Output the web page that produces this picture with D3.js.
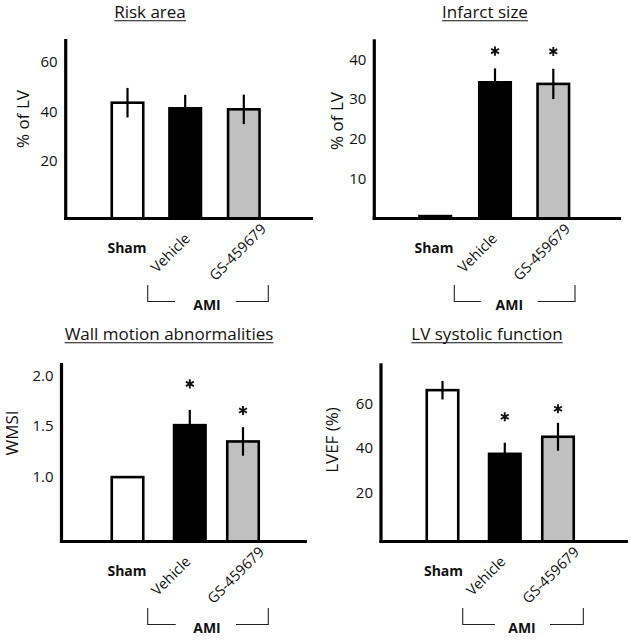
<!DOCTYPE html>
<html>
<head>
<meta charset="utf-8">
<script src="https://cdn.jsdelivr.net/npm/d3@7/dist/d3.min.js"></script>
<style>
  html, body { margin: 0; padding: 0; background: #fff; }
  svg { display: block; font-family: "Open Sans", "Noto Sans", sans-serif; }
</style>
</head>
<body>
<svg id="chart" width="631" height="642"></svg>
<script>
// ---------------- DATA ----------------
const categories = ["Sham", "Vehicle", "GS-459679"];
const groupLabel = "AMI";
const titles = ["Risk area", "Infarct size", "Wall motion abnormalities", "LV systolic function"];
const yTitles = ["% of LV", "% of LV", "WMSI", "LVEF (%)"];

const riskArea      = [43.5, 41.2, 40.8];
const riskAreaErr   = [6.0, 5.5, 6.0];
const infarctSize   = [0.6, 34.2, 33.8];
const infarctErr    = [0, 3.5, 3.8];
const wmsi          = [1.0, 1.51, 1.35];
const wmsiErr       = [0, 0.15, 0.14];
const lvef          = [66.0, 37.3, 45.0];
const lvefErr       = [4.2, 5.0, 6.3];

const significant = [
  [false, false, false],
  [false, true, true],
  [false, true, true],
  [false, true, true]
];

const ticks1 = [20, 40, 60];
const ticks2 = [10, 20, 30, 40];
const ticks3 = [1.0, 1.5, 2.0];
const ticks4 = [20, 40, 60];

// ---------------- LAYOUT ----------------
const barFills = ["#ffffff", "#000000", "#c0c0c0"];
const layouts = [
  { ax: 65.7, top: 39, base: 218.5, right: 313, dom: [-3.6, 69.4], fmt: d3.format("d"),
    centers: [127.5, 185.2, 243.8], titleX: 150, titleY: 17.5, yTitleX: 23, yTitleY: 119,
    labelX: [127, 191, 267], bracket: [147.7, 268.3, 175, 236, 207], starGap: [0, 17, 17] },
  { ax: 374.3, top: 39.3, base: 218.5, right: 621, dom: [0, 45], fmt: d3.format("d"),
    centers: [435.2, 495, 553.3], titleX: 485, titleY: 17.5, yTitleX: 337, yTitleY: 121,
    labelX: [434, 498, 571], bracket: [454.3, 575, 480.7, 537.7, 509.3], starGap: [0, 17.3, 17.3] },
  { ax: 61.5, top: 363, base: 541.5, right: 307, dom: [0.368, 2.12], fmt: d3.format(".1f"),
    centers: [127.5, 189.8, 243], titleX: 169, titleY: 339.5, yTitleX: 12.5, yTitleY: 433,
    labelX: [127, 191.5, 265], bracket: [147.7, 268.3, 175.7, 236, 207], starGap: [0, 26, 16.7] },
  { ax: 381, top: 363.3, base: 541.5, right: 628, dom: [-2.2, 78.1], fmt: d3.format("d"),
    centers: [442.5, 504.8, 558], titleX: 487, titleY: 339.5, yTitleX: 331.7, yTitleY: 440,
    labelX: [443.5, 506.5, 580], bracket: [462.7, 583.3, 495, 550, 522], starGap: [0, 26, 14] }
];

const panelValues = [riskArea, infarctSize, wmsi, lvef];
const panelErrors = [riskAreaErr, infarctErr, wmsiErr, lvefErr];
const panelTicks = [ticks1, ticks2, ticks3, ticks4];

const svg = d3.select("#chart");
const ink = "#111";
const star = d3.symbol().type(d3.symbolAsterisk).size(58);

panelValues.forEach((vals, p) => {
  const L = layouts[p];
  const errs = panelErrors[p];
  const rows = vals.map((v, i) => ({ cat: categories[i], v, e: errs[i], i, sig: significant[p][i] }));
  const g = svg.append("g");

  const y = d3.scaleLinear().domain(L.dom).range([L.base, L.top]);
  const x = d3.scaleOrdinal().domain(categories).range(L.centers);
  const barW = 31.5;

  // title with underline
  const t = g.append("text")
    .attr("x", L.titleX).attr("y", L.titleY)
    .attr("text-anchor", "middle")
    .attr("font-size", 17).attr("fill", ink)
    .text(titles[p]);
  const tw = t.node().getComputedTextLength();
  g.append("line")
    .attr("x1", L.titleX - tw / 2).attr("x2", L.titleX + tw / 2)
    .attr("y1", L.titleY + 3.2).attr("y2", L.titleY + 3.2)
    .attr("stroke", ink).attr("stroke-width", 1.1);

  // y-axis title
  g.append("text")
    .attr("transform", `translate(${L.yTitleX},${L.yTitleY}) rotate(-90)`)
    .attr("text-anchor", "middle").attr("dy", "0.35em")
    .attr("font-size", 17).attr("fill", ink)
    .text(yTitles[p]);

  // y axis with tick labels (no tick marks)
  const yAxis = d3.axisLeft(y).tickValues(panelTicks[p]).tickFormat(L.fmt)
    .tickSize(0).tickPadding(8);
  const ag = g.append("g").attr("transform", `translate(${L.ax},0)`).call(yAxis);
  ag.select(".domain").remove();
  ag.selectAll("text").attr("font-size", 15).attr("fill", ink)
    .attr("font-family", "'Open Sans', sans-serif");

  // bars
  g.selectAll("rect.bar").data(rows).enter().append("rect")
    .attr("class", "bar")
    .attr("x", d => x(d.cat) - barW / 2)
    .attr("width", barW)
    .attr("y", d => y(d.v))
    .attr("height", d => L.base - y(d.v))
    .attr("fill", d => barFills[d.i])
    .attr("stroke", "#000").attr("stroke-width", 2.6);

  // error bars
  g.selectAll("line.err").data(rows.filter(d => d.e > 0)).enter().append("line")
    .attr("class", "err")
    .attr("x1", d => x(d.cat)).attr("x2", d => x(d.cat))
    .attr("y1", d => y(d.v - d.e)).attr("y2", d => y(d.v + d.e))
    .attr("stroke", "#000").attr("stroke-width", 2.2);

  // significance asterisks
  g.selectAll("path.star").data(rows.filter(d => d.sig)).enter().append("path")
    .attr("class", "star")
    .attr("d", star)
    .attr("transform", d => `translate(${x(d.cat)},${y(d.v + d.e) - L.starGap[d.i]})`)
    .attr("fill", "none").attr("stroke", "#111").attr("stroke-width", 1.9);

  // axes lines
  g.append("line").attr("x1", L.ax).attr("x2", L.ax).attr("y1", L.top).attr("y2", L.base + 1.5)
    .attr("stroke", "#000").attr("stroke-width", 3.2);
  g.append("line").attr("x1", L.ax - 1.6).attr("x2", L.right).attr("y1", L.base).attr("y2", L.base)
    .attr("stroke", "#000").attr("stroke-width", 3.2);

  // category labels
  g.append("text")
    .attr("x", L.labelX[0]).attr("y", L.base + 34.5)
    .attr("text-anchor", "middle").attr("font-size", 14).attr("font-weight", "bold")
    .attr("fill", ink).text(categories[0]);
  g.append("text")
    .attr("transform", `translate(${L.labelX[1]},${L.base + 21}) rotate(-45)`)
    .attr("text-anchor", "end").attr("font-size", 14.5).attr("fill", ink)
    .text(categories[1]);
  g.append("text")
    .attr("transform", `translate(${L.labelX[2]},${L.base + 11.5}) rotate(-45)`)
    .attr("text-anchor", "end").attr("font-size", 14.5).attr("fill", ink)
    .text(categories[2]);

  // AMI bracket
  const [bl, br, segL, segR, amiX] = L.bracket;
  const bTop = L.base + 66.5, bBot = L.base + 83;
  g.append("path")
    .attr("d", `M${bl},${bTop}V${bBot}H${segL}M${segR},${bBot}H${br}V${bTop}`)
    .attr("fill", "none").attr("stroke", "#222").attr("stroke-width", 1.1);
  g.append("text")
    .attr("x", amiX).attr("y", L.base + 91)
    .attr("text-anchor", "middle").attr("font-size", 14).attr("font-weight", "bold")
    .attr("fill", ink).text(groupLabel);
});
</script>
</body>
</html>
